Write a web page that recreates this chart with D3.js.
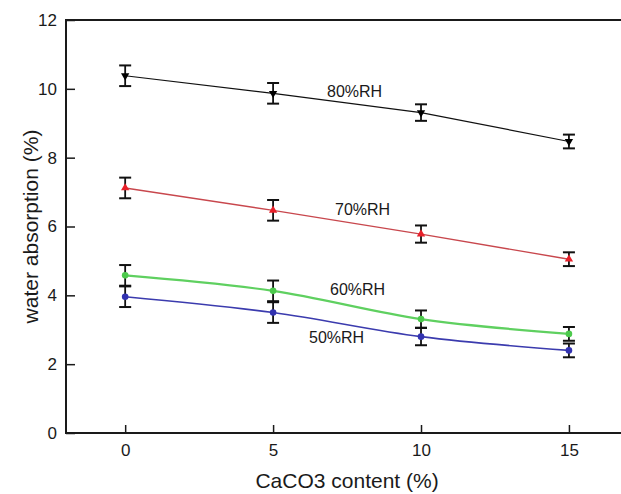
<!DOCTYPE html>
<html>
<head>
<meta charset="utf-8">
<script src="https://cdn.jsdelivr.net/npm/d3@7"></script>
<style>
  body { margin: 0; background: #fff; }
  text { font-family: "Liberation Sans", Arial, sans-serif; fill: #1a1a1a; }
</style>
</head>
<body>
<div id="chart"></div>
<script>
const content = [0, 5, 10, 15];

const rh80 = [10.38, 9.87, 9.31, 8.47];
const rh80Err = [0.3, 0.3, 0.24, 0.2];
const rh70 = [7.12, 6.47, 5.78, 5.05];
const rh70Err = [0.3, 0.3, 0.25, 0.2];
const rh60 = [4.58, 4.13, 3.31, 2.88];
const rh60Err = [0.3, 0.3, 0.25, 0.2];
const rh50 = [3.96, 3.5, 2.8, 2.4];
const rh50Err = [0.3, 0.3, 0.25, 0.2];

const yTicks = [0, 2, 4, 6, 8, 10, 12];

const series = [
  { name: "80%RH", values: rh80, err: rh80Err, line: "#111", mark: "#000", width: 1.2, shape: "down", smooth: false, label: [327, 97] },
  { name: "70%RH", values: rh70, err: rh70Err, line: "#c8474d", mark: "#e8202a", width: 1.4, shape: "up", smooth: false, label: [335, 215] },
  { name: "60%RH", values: rh60, err: rh60Err, line: "#5fd060", mark: "#4cc94c", width: 2.2, shape: "circle", smooth: true, label: [330, 295] },
  { name: "50%RH", values: rh50, err: rh50Err, line: "#3b3bae", mark: "#3232b0", width: 1.6, shape: "circle", smooth: true, label: [309, 343] }
];

const W = 621, H = 494;
const plotLeft = 66, plotTop = 20, plotBottom = 433;

const svg = d3.select("#chart").append("svg").attr("width", W).attr("height", H);

const x = d3.scaleLinear().domain([-2, 16.76]).range([plotLeft, W]);
const y = d3.scaleLinear().domain([0, 12]).range([plotBottom, plotTop]);

// frame (open on the right, as in the cropped original)
svg.append("path")
  .attr("d", `M${W},${plotTop}H${plotLeft}V${plotBottom}H${W}`)
  .attr("fill", "none").attr("stroke", "#1a1a1a").attr("stroke-width", 2);

// y axis
const yAxis = svg.append("g").attr("transform", `translate(${plotLeft},0)`)
  .call(d3.axisLeft(y).tickValues(yTicks).tickSizeInner(-9).tickSizeOuter(0).tickPadding(9));
yAxis.select(".domain").remove();
yAxis.selectAll(".tick line").attr("stroke", "#1a1a1a").attr("stroke-width", 1.5);
yAxis.selectAll(".tick text").attr("font-size", 17).attr("fill", "#1a1a1a")
  .style("font-family", "'Liberation Sans', Arial, sans-serif");

// x axis
const xAxis = svg.append("g").attr("transform", `translate(0,${plotBottom})`)
  .call(d3.axisBottom(x).tickValues(content).tickSizeInner(-8).tickSizeOuter(0).tickPadding(11));
xAxis.select(".domain").remove();
xAxis.selectAll(".tick line").attr("stroke", "#1a1a1a").attr("stroke-width", 1.5);
xAxis.selectAll(".tick text").attr("font-size", 17).attr("fill", "#1a1a1a")
  .style("font-family", "'Liberation Sans', Arial, sans-serif");

// axis titles
svg.append("text")
  .attr("x", x(7.5)).attr("y", 488)
  .attr("text-anchor", "middle").attr("font-size", 21)
  .text("CaCO3 content (%)");

svg.append("text")
  .attr("transform", `translate(38,${(plotTop + plotBottom) / 2}) rotate(-90)`)
  .attr("text-anchor", "middle").attr("font-size", 21)
  .text("water absorption (%)");

const line = d3.line()
  .x((d, i) => x(content[i]))
  .y(d => y(d));

series.forEach(s => {
  svg.append("path")
    .datum(s.values)
    .attr("d", line.curve(s.smooth ? d3.curveMonotoneX : d3.curveLinear))
    .attr("fill", "none")
    .attr("stroke", s.line)
    .attr("stroke-width", s.width);
});

// error bars
series.forEach(s => {
  const g = svg.append("g");
  s.values.forEach((v, i) => {
    const cx = x(content[i]);
    const y1 = y(v + s.err[i]), y2 = y(v - s.err[i]);
    g.append("line").attr("x1", cx).attr("x2", cx).attr("y1", y1).attr("y2", y2)
      .attr("stroke", "#111").attr("stroke-width", 1.8);
    [y1, y2].forEach(yy => {
      g.append("line").attr("x1", cx - 6).attr("x2", cx + 6).attr("y1", yy).attr("y2", yy)
        .attr("stroke", "#111").attr("stroke-width", 2);
    });
  });
});

// markers
const triUp = d3.symbol().type(d3.symbolTriangle).size(30);
series.forEach(s => {
  s.values.forEach((v, i) => {
    const cx = x(content[i]), cy = y(v);
    if (s.shape === "circle") {
      svg.append("circle").attr("cx", cx).attr("cy", cy).attr("r", 3.3).attr("fill", s.mark);
    } else {
      const rot = s.shape === "down" ? 180 : 0;
      svg.append("path").attr("d", triUp())
        .attr("transform", `translate(${cx},${cy}) rotate(${rot})`)
        .attr("fill", s.mark);
    }
  });
});

// series labels
series.forEach(s => {
  svg.append("text")
    .attr("x", s.label[0]).attr("y", s.label[1])
    .attr("font-size", 16)
    .text(s.name);
});
</script>
</body>
</html>
